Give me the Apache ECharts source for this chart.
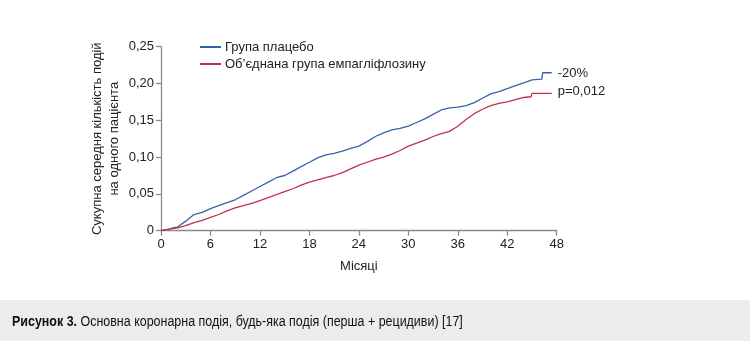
<!DOCTYPE html>
<html>
<head>
<meta charset="utf-8">
<script src="https://cdn.jsdelivr.net/npm/echarts@6/dist/echarts.min.js"></script>
<style>
html,body{margin:0;padding:0;background:#fff;}
#chart{width:750px;height:341px;}
</style>
</head>
<body>
<div id="chart"></div>
<script>
var xTicks = [0, 6, 12, 18, 24, 30, 36, 42, 48];
var yTicks = [0, 0.05, 0.10, 0.15, 0.20, 0.25];

var placeboMonths = [0, 1, 1.5, 2, 3, 4, 5, 6, 7, 8, 9, 10, 11, 12, 13, 14, 15, 16, 17, 18, 19, 20, 21, 22, 23, 24, 25, 26, 27, 28, 29, 30, 31, 32, 33, 34, 35, 36, 37, 38, 39, 40, 41, 42, 43, 44, 45, 46.2, 46.3, 47.4];
var placeboValues = [0, 0.002, 0.004, 0.005, 0.013, 0.022, 0.025, 0.030, 0.034, 0.038, 0.042, 0.048, 0.054, 0.060, 0.066, 0.072, 0.075, 0.081, 0.087, 0.093, 0.099, 0.103, 0.105, 0.108, 0.112, 0.115, 0.121, 0.128, 0.133, 0.137, 0.139, 0.142, 0.147, 0.152, 0.158, 0.164, 0.167, 0.168, 0.170, 0.174, 0.180, 0.186, 0.189, 0.193, 0.197, 0.201, 0.205, 0.206, 0.2146, 0.2146];

var empaMonths = [0, 1, 2, 3, 4, 5, 6, 7, 8, 9, 10, 11, 12, 13, 14, 15, 16, 17, 18, 19, 20, 21, 22, 23, 24, 25, 26, 27, 28, 29, 30, 31, 32, 33, 34, 35, 36, 37, 38, 39, 40, 41, 42, 43, 44, 44.9, 45.0, 47.4];
var empaValues = [0, 0.002, 0.004, 0.007, 0.011, 0.014, 0.018, 0.022, 0.027, 0.031, 0.034, 0.037, 0.041, 0.045, 0.049, 0.053, 0.057, 0.062, 0.066, 0.069, 0.072, 0.075, 0.079, 0.084, 0.089, 0.093, 0.097, 0.100, 0.104, 0.109, 0.115, 0.119, 0.123, 0.128, 0.132, 0.135, 0.142, 0.151, 0.159, 0.165, 0.170, 0.173, 0.175, 0.178, 0.181, 0.182, 0.1865, 0.1865];

var seriesNames = ['Група плацебо', "Об\u2019єднана група емпагліфлозину"];
var endTexts = ['-20%', 'p=0,012'];
var caption = ['Рисунок 3.', ' Основна коронарна подія, будь-яка подія (перша + рецидиви) [17]'];

function pairs(xs, ys){ return xs.map(function(x,i){ return [x, ys[i]]; }); }
function fmt(v){ return v === 0 ? '0' : v.toFixed(2).replace('.', ','); }

var FONT = "'Liberation Sans', 'DejaVu Sans', sans-serif";
var chart = echarts.init(document.getElementById('chart'), null, {renderer:'canvas'});
chart.setOption({
  animation: false,
  backgroundColor: '#fff',
  textStyle: {fontFamily: FONT},
  grid: {left: 161, right: 193.3, top: 46.7, bottom: 110.3, containLabel: false},
  legend: {
    orient: 'vertical', left: 195, top: 34, itemWidth: 21, itemHeight: 2, itemGap: 1,
    icon: 'rect',
    textStyle: {fontSize: 13, color: '#222', fontFamily: FONT, lineHeight: 16, padding: [0,0,0,-1]},
    data: seriesNames
  },
  xAxis: {
    type: 'value', min: 0, max: 48, interval: 6,
    name: 'Місяці', nameLocation: 'middle', nameGap: 29, nameMoveOverlap: false,
    nameTextStyle: {fontSize: 13, color: '#222', fontFamily: FONT},
    axisLine: {show: true, onZero: false, lineStyle: {color: '#8a8a8a', width: 1.3}},
    axisTick: {show: true, length: 5, lineStyle: {color: '#8a8a8a', width: 1.3}},
    axisLabel: {fontSize: 13, color: '#222', margin: 7, fontFamily: FONT,
      formatter: function(v){ return xTicks.indexOf(v) >= 0 ? String(v) : ''; }},
    splitLine: {show: false}
  },
  yAxis: {
    type: 'value', min: 0, max: 0.25, interval: 0.05,
    name: 'Сукупна середня кількість подій\nна одного пацієнта',
    nameLocation: 'middle', nameGap: 38, nameRotate: 90, nameMoveOverlap: false,
    nameTextStyle: {fontSize: 13, color: '#222', lineHeight: 17, fontFamily: FONT, align: 'center'},
    axisLine: {show: true, lineStyle: {color: '#8a8a8a', width: 1.3}},
    axisTick: {show: true, length: 5, lineStyle: {color: '#8a8a8a', width: 1.3}},
    axisLabel: {fontSize: 13, color: '#222', margin: 7, fontFamily: FONT,
      formatter: function(v){ return fmt(v); }},
    splitLine: {show: false}
  },
  series: [
    {
      name: seriesNames[0], type: 'line', data: pairs(placeboMonths, placeboValues),
      showSymbol: false, symbol: 'none', color: '#3562a8',
      lineStyle: {width: 1.3, color: '#3562a8'},
      endLabel: {show: true, formatter: endTexts[0], distance: 6, fontSize: 13, color: '#222', fontFamily: FONT, offset: [0, 1]}
    },
    {
      name: seriesNames[1], type: 'line', data: pairs(empaMonths, empaValues),
      showSymbol: false, symbol: 'none', color: '#c3304e',
      lineStyle: {width: 1.3, color: '#c3304e'},
      endLabel: {show: true, formatter: endTexts[1], distance: 6, fontSize: 13, color: '#222', fontFamily: FONT, offset: [0, -2]}
    }
  ],
  graphic: [
    {type: 'rect', left: 0, top: 300, shape: {width: 750, height: 41}, style: {fill: '#ececec'}, silent: true},
    {type: 'text', x: 12, y: 315, scaleX: 0.89, originX: 0,
      style: {
        text: '{b|' + caption[0] + '}{r|' + caption[1] + '}',
        rich: {
          b: {fontWeight: 'bold', fontSize: 14, fill: '#111', fontFamily: FONT},
          r: {fontSize: 14, fill: '#111', fontFamily: FONT}
        }
      }
    }
  ]
});
</script>
</body>
</html>
